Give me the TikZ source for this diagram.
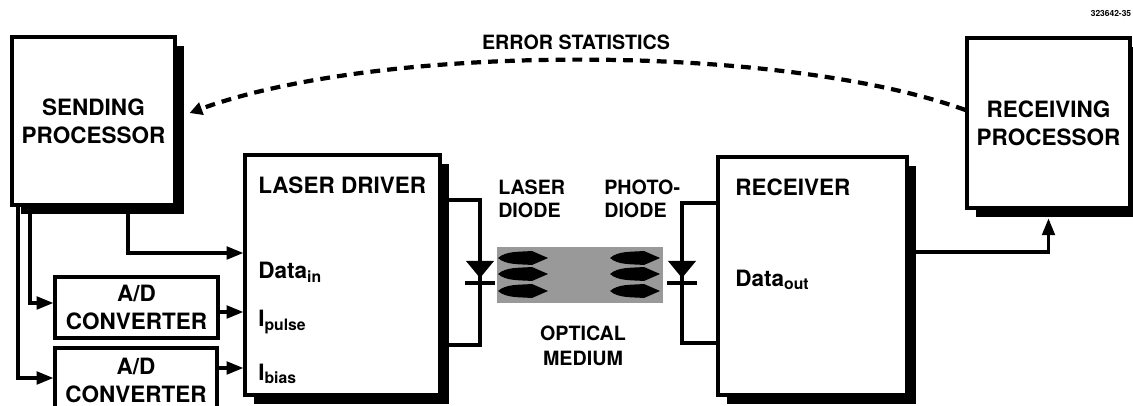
\documentclass[tikz,border=0pt]{standalone}
\usepackage{fontspec}
\setmainfont{TeX Gyre Heros}
\usetikzlibrary{arrows.meta, positioning, shadows, calc}

\newcommand\bigfont{\fontsize{16}{20}\selectfont\bfseries}
\newcommand\smallfont{\fontsize{14}{16.5}\selectfont\bfseries}
\newcommand\idfont{\fontsize{6}{7}\selectfont\bfseries}

\begin{document}
\begin{tikzpicture}[x=0.025cm, y=-0.025cm,
  box/.style={draw, line width=2.2pt, fill=white, inner sep=0pt, align=center, font=\bigfont},
  shadowbox/.style={box, drop shadow={shadow xshift=0.22cm, shadow yshift=-0.22cm, fill=black, opacity=1}},
  wire/.style={line width=2.3pt},
  arr/.style={wire, -{Triangle[length=12pt, width=9pt]}},
  feedback/.style={line width=3pt, dash pattern=on 7pt off 5pt, -{Triangle[length=9pt, width=9pt]}},
  lbl/.style={anchor=west, inner sep=0pt, font=\bigfont, align=left}]
\tikzset{
  beam/.pic={\fill (0,0) .. controls (8,-7) and (20,-6) .. (34,-7) -- (50,0) -- (34,7) .. controls (20,6) and (8,7) .. (0,0);},
  diode/.pic={\fill (-14,-9) -- (14,-9) -- (0,8) -- cycle; \draw[line width=2.6pt] (-15,13) -- (15,13);}
}
\useasboundingbox (0,0) rectangle (1133,406);

% processors and blocks
\node[shadowbox, minimum width=4.075cm, minimum height=4.2cm] (send) at (93.5,121) {SENDING\\PROCESSOR};
\node[shadowbox, minimum width=4.875cm, minimum height=6cm] (driver) at (342.5,275) {};
\node[shadowbox, minimum width=4.725cm, minimum height=5.95cm] (recv) at (812.5,276) {};
\node[shadowbox, minimum width=4.075cm, minimum height=4.25cm] (recproc) at (1048.5,123) {RECEIVING\\PROCESSOR};
\node[box, minimum width=4.075cm, minimum height=1.525cm] (adc1) at (136.5,307.5) {A/D\\CONVERTER};
\node[box, minimum width=4.05cm, minimum height=1.6cm] (adc2) at (136,380) {A/D\\CONVERTER};

% labels inside the blocks
\node[lbl] (drvtitle) at (258,185) {LASER DRIVER};
\node[lbl] (datain) at (258,272) {Data\textsubscript{in}};
\node[lbl] (ipulse) at (258,322) {I\textsubscript{pulse}};
\node[lbl] (ibias) at (258,374) {I\textsubscript{bias}};
\node[lbl] (rcvtitle) at (735,187) {RECEIVER};
\node[lbl] (dataout) at (735,280) {Data\textsubscript{out}};

% optical medium
\node[fill=black!40, minimum width=4.15cm, minimum height=1.4cm, inner sep=0pt] (medium) at (580,275) {};
\foreach \y in {258,274,291} {
  \pic at (498,\y) {beam};
  \pic at (610,\y) {beam};
}

% diodes
\coordinate (ld) at (480,270);
\coordinate (pd) at (682,270);
\draw[wire] (driver.east |- 0,200) -| (ld) |- (driver.east |- 0,345);
\draw[wire] (recv.west |- 0,203) -| (pd) |- (recv.west |- 0,343);
\pic at (ld) {diode};
\pic at (pd) {diode};

\node[lbl, font=\smallfont] (ldlbl) at (498,199) {LASER\\DIODE};
\node[lbl, font=\smallfont] (pdlbl) at (604,199) {PHOTO-\\DIODE};
\node[font=\fontsize{14}{17.5}\selectfont\bfseries, align=center, inner sep=0pt] (medlbl) at (583,346) {OPTICAL\\MEDIUM};
\node[font=\smallfont, inner sep=0pt] (errlbl) at (576,42) {ERROR STATISTICS};
\node[font=\idfont, inner sep=0pt] (figid) at (1111,13) {323642-35};

% connections
\draw[arr] (send.south -| 128,0) |- (driver.west |- 0,253);
\draw[arr] (send.south -| 30,0) |- (adc1.west |- 0,303);
\draw[arr] (send.south -| 18,0) |- (adc2.west |- 0,378);
\draw[arr] (adc1.east |- 0,312) -- (driver.west |- 0,312);
\draw[arr] (adc2.east |- 0,368) -- (driver.west |- 0,368);
\draw[arr] (recv.east |- 0,252) -| ([yshift=-0.22cm]recproc.south);
\draw[feedback] (recproc.west |- 0,110) .. controls (780,43) and (380,43) .. ($(send.east)+(13,-8)$);
\end{tikzpicture}
\end{document}
